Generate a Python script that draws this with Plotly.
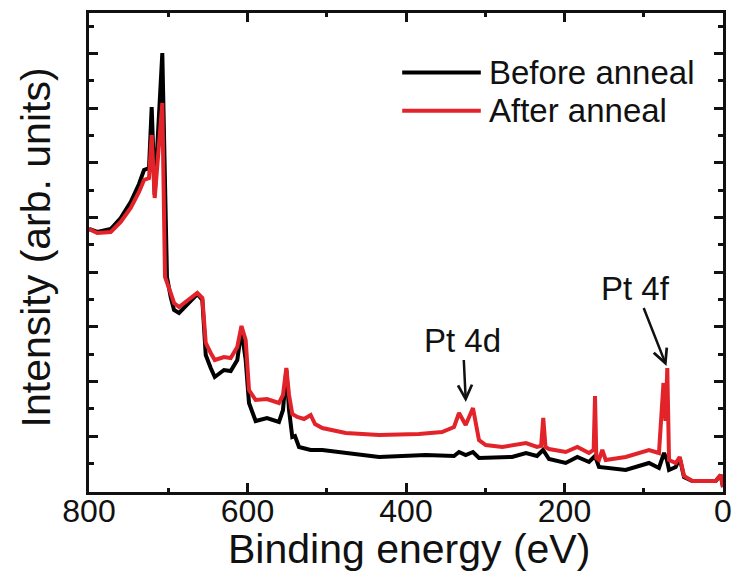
import plotly.graph_objects as go

# Binding energy (eV) and intensity (arb. units)
energy_before = [800, 789.5, 772.6, 760, 747.4, 736.9, 730.6, 724.3, 720.9, 717.1, 707.5, 703.5, 701.6,
                 696.9, 692.7, 686.4, 678, 669.7, 663.3, 657, 652.7, 646.4, 641.3, 629.7, 621.2, 612.9,
                 607.6, 602.3, 598.1, 589.7, 575.4, 560.3, 555.2, 551, 547.6, 543.5, 540.1, 535, 520.3,
                 505.6, 476.1, 434, 375.1, 339.4, 333.1, 324.7, 315.5, 307.9, 266.2, 248.6, 234.7, 227.1,
                 219.6, 198.5, 183.8, 169.1, 161.5, 156.5, 122.8, 93.4, 80.8, 74.4, 70.7, 68.1, 59.7,
                 54.6, 49.2, 38.7, 9.2, 2.9, 0]
intensity_before = [262, 259, 262, 273, 289, 307, 321, 323, 384, 296, 438, 251, 214,
                    194, 181, 178, 185, 192, 197, 191, 136, 123, 114, 121, 120, 131,
                    161, 131, 88, 70, 73, 69, 81, 121, 81, 54, 55, 44, 41,
                    41, 38, 34, 36, 35, 39, 36, 39, 33, 34, 38, 35, 41,
                    32, 28, 34, 29, 35, 24, 21, 28, 23, 38, 31, 21, 24,
                    33, 14, 10, 10, 16, 4]

energy_after = [800, 789.5, 772.6, 760, 747.4, 736.9, 730.6, 724.3, 720.9, 717.1, 707.5, 705.4, 704.1,
                696.9, 692.7, 686.4, 678, 669.7, 663.3, 657, 652.7, 646.4, 641.3, 629.7, 621.2, 612.9,
                607.6, 602.3, 598.1, 589.7, 575.4, 560.3, 555.2, 551, 547.6, 543.5, 537.2, 528.7, 520.3,
                514.8, 505.6, 476.1, 434, 383.6, 354.6, 339.4, 333.1, 324.7, 315.5, 307.9, 299.4, 278.5,
                266.2, 248.6, 234.7, 229.5, 226.8, 224, 219.6, 198.5, 183.8, 169.1, 163.2, 161.5, 159.8,
                156.5, 152.3, 148, 122.8, 93.4, 80.8, 75.1, 72.6, 70.3, 68.1, 59.7, 54.6, 49.2, 38.7,
                9.2, 2.9, 0]
intensity_after = [262, 258, 259, 269, 283, 299, 311, 313, 356, 293, 388, 241, 214,
                   198, 188, 184, 189, 194, 198, 193, 148, 138, 131, 134, 133, 144,
                   165, 151, 101, 91, 92, 88, 96, 123, 96, 77, 74, 72, 76,
                   67, 63, 58, 56, 57, 59, 64, 78, 66, 83, 51, 46, 44,
                   46, 48, 44, 45, 73, 44, 42, 39, 44, 38, 41, 95, 33,
                   31, 41, 31, 34, 41, 38, 108, 70, 123, 31, 28, 34, 15, 10,
                   10, 16, 4]

series_names = ["Before anneal", "After anneal"]
series_colors = ["#000000", "#E3232A"]
x_tick_values = [800, 600, 400, 200, 0]
x_tick_labels = ["800", "600", "400", "200", "0"]
x_title = "Binding energy (eV)"
y_title = "Intensity (arb. units)"

FONT = "Arial, 'Liberation Sans', sans-serif"
INK = "#111111"

fig = go.Figure()
fig.add_trace(go.Scatter(x=energy_before, y=intensity_before, mode="lines", name=series_names[0],
                         line=dict(color=series_colors[0], width=4), showlegend=False))
fig.add_trace(go.Scatter(x=energy_after, y=intensity_after, mode="lines", name=series_names[1],
                         line=dict(color=series_colors[1], width=4), showlegend=False))

# manual legend with long line samples
legend_y = [0.876, 0.796]
for i in range(2):
    fig.add_shape(type="line", xref="paper", yref="paper", x0=0.494, x1=0.618,
                  y0=legend_y[i], y1=legend_y[i], line=dict(color=series_colors[i], width=4))
    fig.add_annotation(xref="paper", yref="paper", x=0.627, y=legend_y[i], text=series_names[i],
                       showarrow=False, xanchor="left", yanchor="middle",
                       font=dict(family=FONT, size=33, color=INK))

# Axis titles
fig.add_annotation(xref="paper", yref="paper", x=0.505, y=-0.118, text=x_title, showarrow=False,
                   xanchor="center", yanchor="middle", font=dict(family=FONT, size=41, color=INK))
fig.add_annotation(xref="paper", yref="paper", x=-0.084, y=0.51, text=y_title, showarrow=False,
                   textangle=-90, xanchor="center", yanchor="middle",
                   font=dict(family=FONT, size=41, color=INK))

# Peak labels with arrows
fig.add_annotation(x=324.5, y=89, ax=328.3, ay=151, xref="x", yref="y", axref="x", ayref="y",
                   text="Pt 4d", showarrow=True, arrowhead=5, arrowsize=1.1, arrowwidth=2.5,
                   arrowcolor=INK, font=dict(family=FONT, size=33, color=INK))
fig.add_annotation(x=71.3, y=125, ax=110, ay=203, xref="x", yref="y", axref="x", ayref="y",
                   text="Pt 4f", showarrow=True, arrowhead=5, arrowsize=1.1, arrowwidth=2.5,
                   arrowcolor=INK, font=dict(family=FONT, size=33, color=INK))

fig.update_layout(
    width=732, height=582,
    margin=dict(l=89, r=9, t=13, b=90),
    paper_bgcolor="white", plot_bgcolor="white",
    font=dict(family=FONT, color=INK),
    showlegend=False,
)
fig.update_xaxes(
    range=[800, 0], showgrid=False, zeroline=False, automargin=False,
    showline=True, linecolor=INK, linewidth=3, mirror="allticks",
    ticks="inside", ticklen=9, tickwidth=3, tickcolor=INK,
    tickvals=x_tick_values, ticktext=x_tick_labels, ticklabelstandoff=-11,
    ticklabeloverflow="allow",
    tickfont=dict(family=FONT, size=32, color=INK),
    minor=dict(ticks="inside", ticklen=4, tickwidth=3, tickcolor=INK, dtick=100, showgrid=False),
)
fig.update_yaxes(
    range=[-1, 478], showgrid=False, zeroline=False, automargin=False,
    showline=True, linecolor=INK, linewidth=3, mirror="allticks",
    ticks="inside", ticklen=9, tickwidth=3, tickcolor=INK,
    tick0=0, dtick=54.7, showticklabels=False,
    minor=dict(ticks="inside", ticklen=5, tickwidth=3, tickcolor=INK, dtick=27.35, showgrid=False),
)

fig.write_html("out.html", config={"displayModeBar": False},
               post_script="document.body.style.margin='0px';")
